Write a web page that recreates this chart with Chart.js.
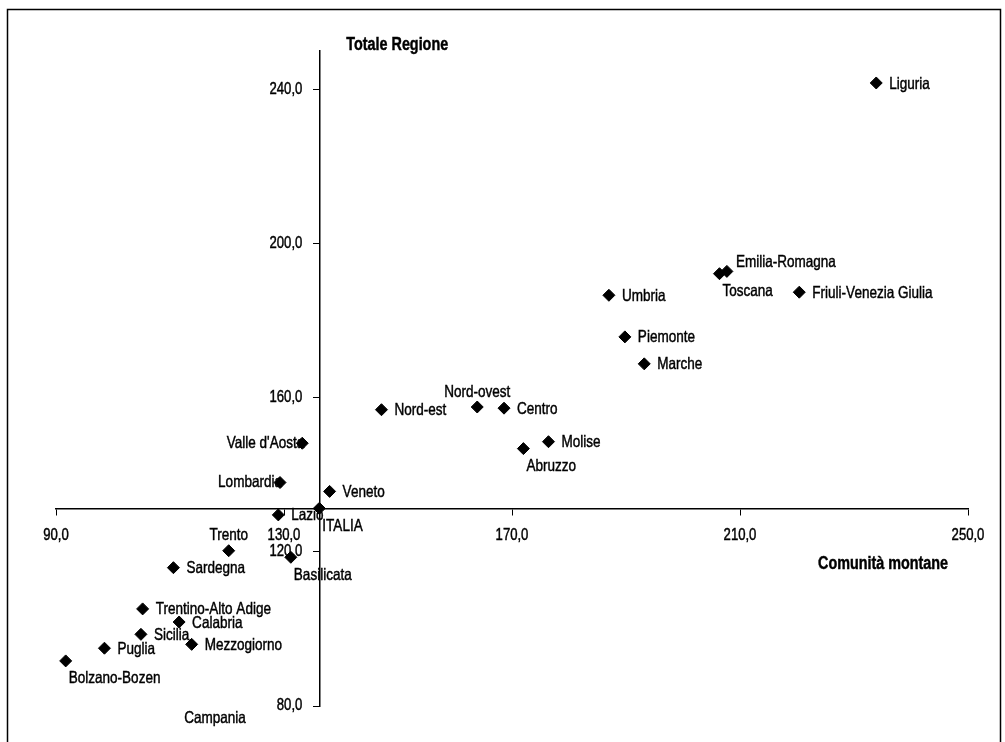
<!DOCTYPE html>
<html>
<head>
<meta charset="utf-8">
<title>Comunità montane / Totale Regione</title>
<script src="https://cdn.jsdelivr.net/npm/chart.js@4.4.0/dist/chart.umd.min.js"></script>
<style>
  body { margin: 0; background: #fff; }
  #chart { display: block; }
</style>
</head>
<body>
<canvas id="chart" width="1005" height="742"></canvas>
<script>
const regions = [
  'Liguria', 'Emilia-Romagna', 'Toscana', 'Friuli-Venezia Giulia', 'Umbria',
  'Piemonte', 'Marche', 'Nord-ovest', 'Centro', 'Nord-est',
  'Molise', 'Abruzzo', "Valle d'Aosta", 'Lombardia', 'Veneto',
  'ITALIA', 'Lazio', 'Trento', 'Basilicata', 'Sardegna',
  'Trentino-Alto Adige', 'Calabria', 'Sicilia', 'Mezzogiorno', 'Puglia',
  'Bolzano-Bozen', 'Campania'
]

// x: Comunità montane
const comunita_montane = [
  233.9, 207.7, 206.4, 220.4, 187.0,
  189.8, 193.2, 163.9, 168.6, 147.1,
  176.4, 172.0, 133.2, 129.3, 138.0,
  136.2, 129.0, 120.3, 131.2, 110.6,
  105.2, 111.6, 104.9, 113.8, 98.5,
  91.7, 117.9
]

// y: Totale Regione
const totale_regione = [
  241.7, 192.8, 192.2, 187.4, 186.6,
  175.8, 168.8, 157.6, 157.3, 156.9,
  148.6, 146.8, 148.2, 138.0, 135.7,
  131.3, 129.6, 120.3, 118.6, 115.9,
  105.2, 101.8, 98.6, 96.0, 95.0,
  91.7, 69.0
]

const x_ticks = [90, 130, 170, 210, 250]
const y_ticks = [80, 120, 160, 200, 240]

// where each name goes around its marker (r=right, l=left, a=above, b=below)
const label_side = [
  'r', 'ru', 'b', 'r', 'r',
  'r', 'r', 'a', 'r', 'r',
  'r', 'b', 'l', 'l', 'r',
  'b', 'r', 'a', 'b', 'r',
  'r', 'r', 'r', 'r', 'r',
  'b', 'far'
]

// the axes cross on the national value
const it = regions.indexOf('ITALIA')

function fmt(v) {
  return v.toFixed(1).replace('.', ',')
}

// Arial squeezed sideways, close to the narrow face of the original
function narrowText(ctx, text, x, y, align, size, bold) {
  ctx.save()
  ctx.font = (bold ? 'bold ' : '') + size + "px 'Liberation Sans', Arial, sans-serif"
  ctx.fillStyle = '#000'
  ctx.strokeStyle = '#000'
  ctx.lineWidth = 0.45
  ctx.textBaseline = 'middle'
  ctx.textAlign = align
  ctx.translate(x, y)
  ctx.scale(0.82, 1)
  ctx.fillText(text, 0, 0)
  ctx.strokeText(text, 0, 0)   // the scan looks a bit heavier than plain Arial
  ctx.restore()
}

const points = regions.map((r, i) => ({x: comunita_montane[i], y: totale_regione[i]}))

// names next to the markers + tick labels, drawn before the markers so these sit on top
const pointLabels = {
  id: 'pointLabels',
  beforeDatasetsDraw(chart) {
    const ctx = chart.ctx
    const xs = chart.scales.x, ys = chart.scales.y
    const meta = chart.getDatasetMeta(0)
    meta.data.forEach((pt, i) => {
      const side = label_side[i]
      let x = pt.x, y = pt.y, align = 'left'
      if (side == 'r') { x += 13; y += 1 }
      else if (side == 'ru') { x += 9; y -= 9 }
      else if (side == 'l') { align = 'right'; x += 2 }
      else if (side == 'a') { align = 'center'; y -= 15 }
      else if (side == 'b') { x += 3; y += 18 }
      else if (side == 'far') { align = 'center'; y -= 30 }
      narrowText(ctx, regions[i], x, y, align, 16.5, false)
    })

    // tick labels (the library puts the y ones right on the axis when it sits inside the plot)
    const ax = xs.getPixelForValue(comunita_montane[it])
    const ay = ys.getPixelForValue(totale_regione[it])
    x_ticks.forEach(v => narrowText(ctx, fmt(v), xs.getPixelForValue(v), ay + 27, 'center', 16, false))
    y_ticks.forEach(v => narrowText(ctx, fmt(v), ax - 17, ys.getPixelForValue(v), 'right', 16, false))
  }
}

// axis titles and the outer frame
const extras = {
  id: 'extras',
  afterDraw(chart) {
    const ctx = chart.ctx
    const xs = chart.scales.x, ys = chart.scales.y
    narrowText(ctx, 'Totale Regione', xs.getPixelForValue(comunita_montane[it]) + 27, 45, 'left', 17.5, true)
    narrowText(ctx, 'Comunità montane', chart.chartArea.right - 20, ys.getPixelForValue(totale_regione[it]) + 56, 'right', 17.5, true)

    ctx.save()
    ctx.strokeStyle = '#000'
    ctx.lineWidth = 1.5
    ctx.strokeRect(7.5, 9.5, 993, 745)
    ctx.restore()
  }
}

const config = {
  type: 'scatter',
  data: {
    datasets: [{
      label: 'Regioni',
      data: points,
      pointStyle: 'rectRot',
      pointRadius: 6,
      pointHoverRadius: 6,
      backgroundColor: '#000',
      borderColor: '#000',
      borderWidth: 1
    }]
  },
  options: {
    responsive: false,
    animation: false,
    layout: { padding: { left: 56, top: 51, right: 37, bottom: 36 } },
    plugins: {
      legend: { display: false },
      tooltip: { enabled: false }
    },
    scales: {
      x: {
        type: 'linear',
        min: 90,
        max: 250,
        position: { y: totale_regione[it] },
        afterBuildTicks: s => { s.ticks = x_ticks.map(v => ({value: v})) },
        grid: { display: true, drawOnChartArea: false, drawTicks: true, tickLength: 6, color: '#000' },
        border: { display: true, color: '#000', width: 1.5 },
        ticks: { display: false }
      },
      y: {
        type: 'linear',
        min: 80,
        max: 250,
        position: { x: comunita_montane[it] },
        afterBuildTicks: s => { s.ticks = y_ticks.map(v => ({value: v})) },
        grid: { display: true, drawOnChartArea: false, drawTicks: true, tickLength: 6, color: '#000' },
        border: { display: true, color: '#000', width: 1.5 },
        ticks: { display: false }
      }
    }
  },
  plugins: [pointLabels, extras]
}

const myChart = new Chart(document.getElementById('chart'), config)
</script>
</body>
</html>
